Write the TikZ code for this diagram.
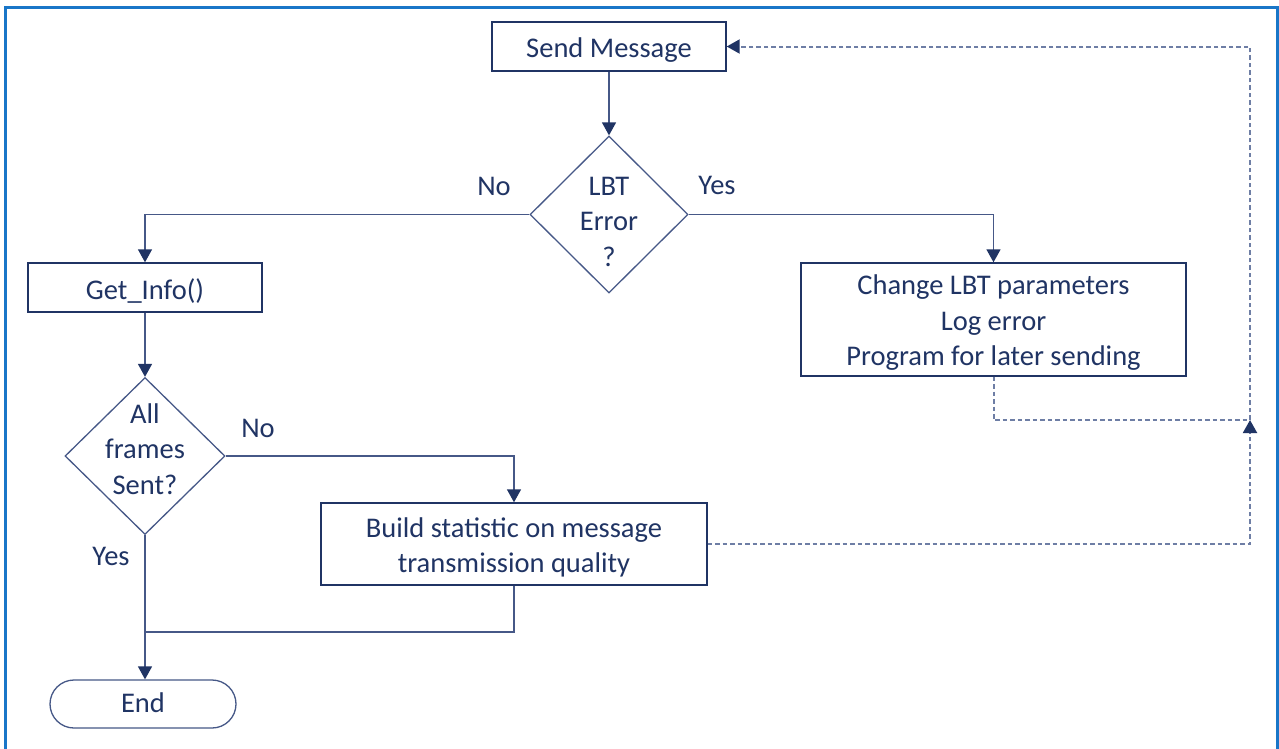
\documentclass[tikz,border=0pt]{standalone}
\usepackage{fontspec}
\setmainfont{Carlito}
\usetikzlibrary{shapes.geometric,arrows.meta}

\definecolor{navy}{RGB}{32,52,100}
\definecolor{edge}{RGB}{70,88,135}
\definecolor{dashc}{RGB}{110,126,165}
\definecolor{framec}{RGB}{25,118,200}

\tikzset{
  txt/.style={text=navy, font=\fontsize{28.5}{35.5}\selectfont, inner sep=0pt, align=center},
  boxtxt/.style={txt, yshift=-3.5pt},
  procbox/.style={draw=navy, line width=1.4pt, fill=white, inner sep=0pt},
  decision/.style={diamond, draw=edge, line width=1.3pt, fill=white, inner sep=0pt},
  terminal/.style={draw=edge, line width=1.3pt, rounded corners=24pt, inner sep=0pt},
  tip/.style={-{Triangle[width=14pt,length=13pt,color=navy,fill=navy]}},
  conn/.style={draw=edge, line width=1.4pt},
  link/.style={draw=dashc, line width=2pt, dash pattern=on 4.5pt off 3pt},
  frameline/.style={draw=framec, line width=2.8pt}
}

\begin{document}
\begin{tikzpicture}[x=1pt,y=-1pt]
\useasboundingbox (0,0) rectangle (1279,748);
\fill[white] (0,0) rectangle (1279,748);

% outer frame (open at the bottom edge)
\draw[frameline] (5.3,760) -- (5.3,7.2) -- (1277.8,7.2) -- (1277.8,760);

% process boxes
\node[procbox, minimum width=234pt, minimum height=49pt] (send) at (609,46.5) {};
\node[boxtxt] (sendT) at (send) {Send Message};

\node[procbox, minimum width=234pt, minimum height=49pt] (getinfo) at (145,287.5) {};
\node[boxtxt] (getinfoT) at (getinfo) {Get\_Info()};

\node[procbox, minimum width=385pt, minimum height=113pt] (change) at (993.5,319.5) {};
\node[boxtxt] (changeT) at (change) {Change LBT parameters\\Log error\\Program for later sending};

\node[procbox, minimum width=386pt, minimum height=82pt] (build) at (514,544) {};
\node[boxtxt] (buildT) at (build) {Build statistic on message\\transmission quality};

% decisions
\node[decision, minimum width=158pt, minimum height=157pt] (lbt) at (609,214.5) {};
\node[txt] (lbtT) at (609,221.5) {LBT\\Error\\?};

\node[decision, minimum width=160pt, minimum height=157pt] (allf) at (145,456) {};
\node[txt] (allfT) at (145,449) {All\\frames\\Sent?};

% terminal
\node[terminal, minimum width=186pt, minimum height=48pt] (endn) at (143,704) {};
\node[boxtxt, yshift=4.5pt] (endT) at (endn) {End};

% branch labels
\node[txt] (lbtNo) at (494,186) {No};
\node[txt] (lbtYes) at (717,185) {Yes};
\node[txt] (allNo) at (258,428) {No};
\node[txt] (allYes) at (111,556) {Yes};

% helper points
\coordinate (merge) at (145,632);
\coordinate (retcorner) at (1250,420);

% solid connectors
\draw[conn, tip] (send.south) -- (lbt.north);
\draw[conn, tip] (lbt.west) -| (getinfo.north);
\draw[conn, tip] (lbt.east) -| (change.north);
\draw[conn, tip] (getinfo.south) -- (allf.north);
\draw[conn, tip] (allf.east) -| (build.north);
\draw[conn, tip] (allf.south) -- (allf.south |- endn.north);
\draw[conn] (build.south) |- (merge);

% dashed return paths
\draw[link, tip] (change.south) |- (retcorner) |- (send.east);
\draw[link, tip] (build.east) -| (retcorner);
\end{tikzpicture}
\end{document}
